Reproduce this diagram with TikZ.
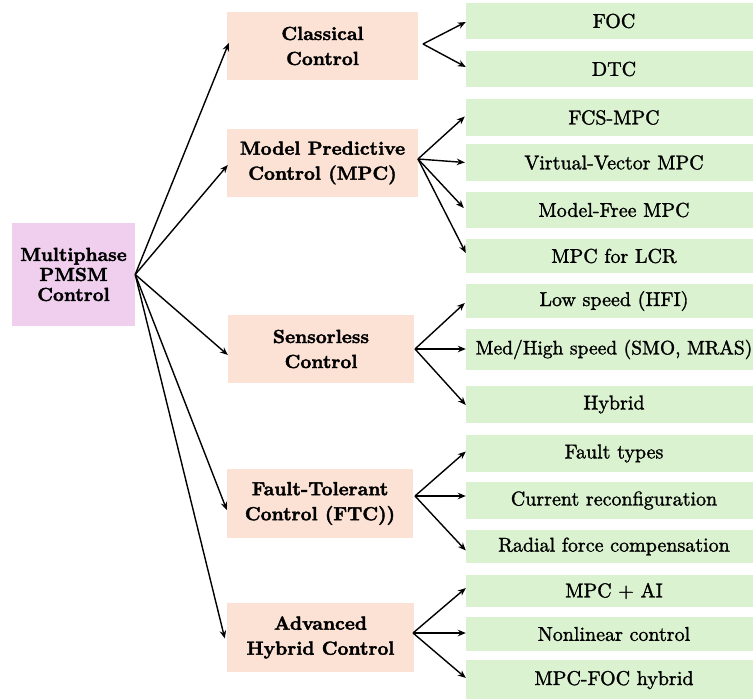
\documentclass[tikz,border=0pt]{standalone}
\usepackage{fontspec}
\newfontfamily\leaffont{lmroman10-regular.otf}[BoldFont=lmroman10-regular.otf,BoldFeatures={FakeBold=1.4}]
\newfontfamily\headfont{lmroman10-bold.otf}[BoldFont=lmroman10-bold.otf,BoldFeatures={FakeBold=2}]
\usetikzlibrary{arrows.meta,calc}
\definecolor{rootc}{RGB}{239,206,238}
\definecolor{midc}{RGB}{251,226,213}
\definecolor{leafc}{RGB}{218,242,208}
\tikzset{
  rootbox/.style={fill=rootc,draw=none,minimum width=123pt,minimum height=103pt,inner sep=0pt,align=center,
    font=\fontsize{18.9}{20}\headfont\bfseries},
  midbox/.style={fill=midc,draw=none,minimum height=68pt,inner sep=0pt,align=center,
    font=\fontsize{19}{25}\headfont\bfseries},
  leafbox/.style={fill=leafc,draw=none,minimum width=296pt,inner sep=0pt,align=center,
    font=\fontsize{20}{24}\leaffont\bfseries},
  arr/.style={draw=black,line width=1.4pt,-{Stealth[length=8pt,width=6.5pt]}}
}
\begin{document}
\begin{tikzpicture}[x=1pt,y=-1pt]
\useasboundingbox (0,0) rectangle (753,699);
\clip (0,0) rectangle (753,699);
% root
\node[rootbox] (root) at (73.5,274.5) {Multiphase\\PMSM\\Control};
% middle
\node[midbox,minimum width=191pt] (c1) at (322.5,46) {Classical\\Control};
\node[midbox,minimum width=191pt] (c2) at (322.5,163) {Model Predictive\\Control (MPC)};
\node[midbox,minimum width=186pt] (c3) at (321,349) {Sensorless\\Control};
\node[midbox,minimum width=186pt,minimum height=69pt] (c4) at (320,503.5) {Fault-Tolerant\\Control (FTC))};
\node[midbox,minimum width=187pt,minimum height=69pt] (c5) at (320.5,637.5) {Advanced\\Hybrid Control};
% leaves
\node[leafbox,minimum height=36pt] (l1) at (614,21) {FOC};
\node[leafbox,minimum height=36pt] (l2) at (614,69) {DTC};
\node[leafbox,minimum height=37pt] (l3) at (614,117.5) {FCS-MPC};
\node[leafbox,minimum height=37pt] (l4) at (614,162.5) {Virtual-Vector MPC};
\node[leafbox,minimum height=36pt] (l5) at (614,210) {Model-Free MPC};
\node[leafbox,minimum height=34pt] (l6) at (614,256) {MPC for LCR};
\node[leafbox,minimum height=34pt] (l7) at (614,301) {Low speed (HFI)};
\node[leafbox,minimum height=41pt,font=\fontsize{19.5}{24}\leaffont\bfseries] (l8) at (614,349.5) {Med/High speed (SMO, MRAS)};
\node[leafbox,minimum height=37pt] (l9) at (614,404.5) {Hybrid};
\node[leafbox,minimum height=37pt] (l10) at (614,453.5) {Fault types};
\node[leafbox,minimum height=37pt] (l11) at (614,500.5) {Current reconfiguration};
\node[leafbox,minimum height=33pt] (l12) at (614,546.5) {Radial force compensation};
\node[leafbox,minimum height=32pt] (l13) at (614,591) {MPC + AI};
\node[leafbox,minimum height=34pt] (l14) at (614,634) {Nonlinear control};
\node[leafbox,minimum height=40pt] (l15) at (614,680) {MPC-FOC hybrid};
% fork points
\coordinate (f1) at (423,44);
\coordinate (f2) at (418,159);
\coordinate (f3) at (415,349);
\coordinate (f4) at (415,496);
\coordinate (f5) at (413,633);
% root arrows
\draw[arr] (root.east) -- ($(c1.west)+(2,-3)$);
\draw[arr] (root.east) -- ($(c2.west)+(1,2)$);
\draw[arr] (root.east) -- ($(c3.west)+(0,6)$);
\draw[arr] (root.east) -- ($(c4.west)+(0,6.5)$);
\draw[arr] (root.east) -- ($(c5.west)+(-2,1)$);
% classical
\draw[arr] (f1) -- ($(l1.west)+(0,1)$);
\draw[arr] (f1) -- ($(l2.west)+(0,-2)$);
% MPC
\draw[arr] (f2) -- ($(l3.west)+(-1,-1)$);
\draw[arr] (f2) -- ($(l4.west)+(-1,0)$);
\draw[arr] (f2) -- ($(l5.west)+(-2,-2)$);
\draw[arr] (f2) -- ($(l6.west)+(0,-3)$);
% sensorless
\draw[arr] (f3) -- ($(l7.west)+(-1,2)$);
\draw[arr] (f3) -- (f3 -| l8.west);
\draw[arr] (f3) -- ($(l9.west)+(0,0.5)$);
% FTC
\draw[arr] (f4) -- ($(l10.west)+(0,-2)$);
\draw[arr] (f4) -- (f4 -| l11.west);
\draw[arr] (f4) -- ($(l12.west)+(0,4)$);
% Advanced
\draw[arr] (f5) -- ($(l13.west)+(0,-3)$);
\draw[arr] (f5) -- (f5 -| l14.west);
\draw[arr] (f5) -- ($(l15.west)+(0,-2)$);
\end{tikzpicture}
\end{document}
